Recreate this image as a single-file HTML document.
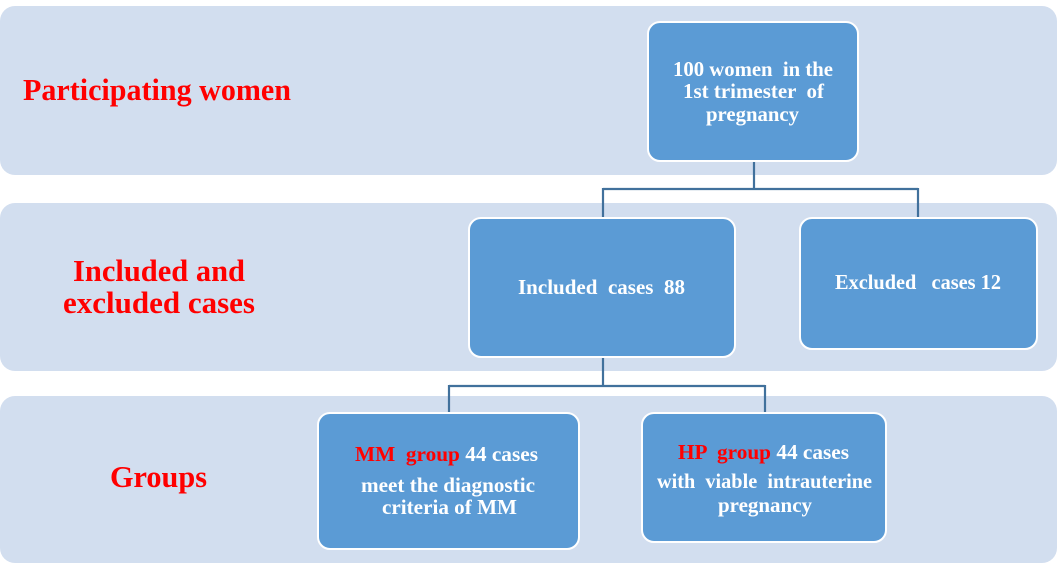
<!DOCTYPE html>
<html>
<head>
<meta charset="utf-8">
<style>
  html, body { margin: 0; padding: 0; background: #ffffff; }
  svg { display: block; }
  .lbl { font-family: "Liberation Serif", "Times New Roman", serif; font-weight: bold; fill: #ff0000; font-size: 31px; }
  .bx { font-family: "Liberation Serif", "Times New Roman", serif; font-weight: bold; fill: #ffffff; font-size: 21px; }
  .r { fill: #ff0000; }
</style>
</head>
<body>
<svg width="1058" height="565" viewBox="0 0 1058 565" xmlns="http://www.w3.org/2000/svg">
  <rect x="0" y="0" width="1058" height="565" fill="#ffffff"/>
  <!-- bands -->
  <rect x="0" y="6" width="1057" height="169" rx="15" ry="15" fill="#d2deef"/>
  <rect x="0" y="203" width="1057" height="168" rx="15" ry="15" fill="#d2deef"/>
  <rect x="0" y="396" width="1057" height="167" rx="15" ry="15" fill="#d2deef"/>

  <!-- connectors -->
  <g stroke="#41719c" stroke-width="2.2" fill="none">
    <path d="M754 161 V189 M603 189 H918 M603 188 V218 M918 188 V218"/>
    <path d="M603 357 V386 M449 386 H765 M449 385 V413 M765 385 V413"/>
  </g>

  <!-- boxes -->
  <g fill="#5b9bd5" stroke="#ffffff" stroke-width="2">
    <rect x="648" y="22" width="210" height="139" rx="12" ry="12"/>
    <rect x="469" y="218" width="266" height="139" rx="12" ry="12"/>
    <rect x="800" y="218" width="237" height="131" rx="12" ry="12"/>
    <rect x="318" y="413" width="261" height="136" rx="12" ry="12"/>
    <rect x="642" y="413" width="244" height="129" rx="12" ry="12"/>
  </g>

  <!-- left labels -->
  <text class="lbl" x="23" y="100" textLength="268" lengthAdjust="spacingAndGlyphs">Participating women</text>
  <text class="lbl" x="73" y="281" textLength="172" lengthAdjust="spacingAndGlyphs">Included and</text>
  <text class="lbl" x="63" y="313" textLength="192" lengthAdjust="spacingAndGlyphs">excluded cases</text>
  <text class="lbl" x="110" y="487" textLength="97" lengthAdjust="spacingAndGlyphs">Groups</text>

  <!-- box texts -->
  <text class="bx" x="673" y="76" textLength="160" lengthAdjust="spacingAndGlyphs" xml:space="preserve">100 women  in the</text>
  <text class="bx" x="683" y="98" textLength="141" lengthAdjust="spacingAndGlyphs" xml:space="preserve">1st trimester  of</text>
  <text class="bx" x="706" y="121" textLength="93" lengthAdjust="spacingAndGlyphs">pregnancy</text>

  <text class="bx" x="518" y="294" textLength="167" lengthAdjust="spacingAndGlyphs" xml:space="preserve">Included  cases  88</text>
  <text class="bx" x="835" y="289" textLength="166" lengthAdjust="spacingAndGlyphs" xml:space="preserve">Excluded   cases 12</text>

  <text class="bx" x="355" y="461" textLength="183" lengthAdjust="spacingAndGlyphs" xml:space="preserve"><tspan class="r">MM  group</tspan> 44 cases</text>
  <text class="bx" x="361" y="492" textLength="174" lengthAdjust="spacingAndGlyphs">meet the diagnostic</text>
  <text class="bx" x="382" y="514" textLength="135" lengthAdjust="spacingAndGlyphs">criteria of MM</text>

  <text class="bx" x="678" y="459" textLength="171" lengthAdjust="spacingAndGlyphs" xml:space="preserve"><tspan class="r">HP  group</tspan> 44 cases</text>
  <text class="bx" x="657" y="488" textLength="215" lengthAdjust="spacingAndGlyphs" xml:space="preserve">with  viable  intrauterine</text>
  <text class="bx" x="718" y="512" textLength="94" lengthAdjust="spacingAndGlyphs">pregnancy</text>
</svg>
</body>
</html>
